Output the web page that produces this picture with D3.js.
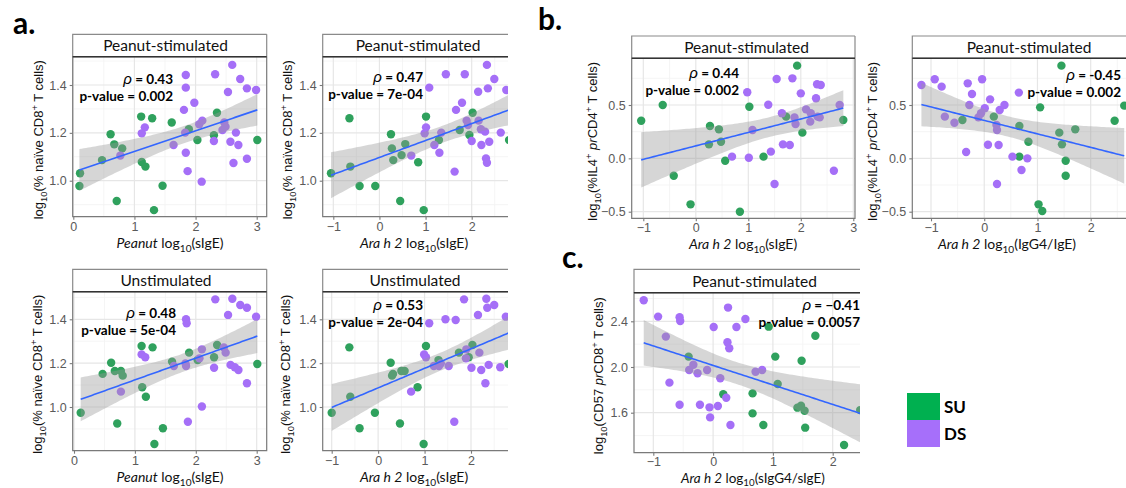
<!DOCTYPE html>
<html>
<head>
<meta charset="utf-8">
<script src="https://cdn.jsdelivr.net/npm/d3@7"></script>
<style>
  body { margin: 0; background: #fff; }
  svg { display: block; }
</style>
</head>
<body>
<svg id="fig" width="1126" height="488"></svg>
<script>
// ---- data: [x, y] per subject ----
// a. naive CD8 vs Peanut sIgE, peanut-stimulated
var naivePnStimSU = [[0.11,1.031],[0.10,0.978],[0.47,1.086],[0.61,1.194],[0.67,1.152],[0.80,1.135],[0.71,0.915],[1.11,1.268],[1.29,1.261],[1.12,1.078],[1.18,1.059],[1.46,0.979],[1.32,0.877],[1.61,1.243],[1.89,1.215],[2.03,1.170],[2.35,1.284],[2.30,1.190],[3.01,1.170]];
var naivePnStimDS = [[1.84,1.442],[1.84,1.389],[1.81,1.296],[1.98,1.326],[2.32,1.445],[2.60,1.484],[2.73,1.425],[2.84,1.386],[2.99,1.379],[2.53,1.371],[1.17,1.223],[1.12,1.198],[0.77,1.105],[1.64,1.149],[1.83,1.201],[1.84,1.117],[1.87,1.040],[2.10,0.996],[2.06,1.236],[2.11,1.251],[2.30,1.166],[2.44,1.212],[2.49,1.226],[2.47,1.243],[2.57,1.163],[2.66,1.201],[2.70,1.149],[2.62,1.074],[2.84,1.092]];
// a. naive CD8 vs Ara h 2 sIgE, peanut-stimulated
var naiveAraStimSU = [[-1.05,1.031],[-0.65,1.261],[-0.63,1.059],[-0.43,0.978],[-0.09,0.978],[0.25,1.194],[0.27,1.135],[0.30,1.086],[0.48,1.107],[0.56,1.153],[0.45,0.915],[0.84,1.077],[0.96,0.877],[1.01,1.268],[1.29,1.170],[1.74,1.212],[1.95,1.191],[2.02,1.284],[2.81,1.170]];
var naiveAraStimDS = [[1.08,1.389],[1.44,1.445],[1.85,1.445],[2.33,1.484],[2.14,1.372],[2.35,1.386],[2.49,1.425],[2.75,1.379],[1.79,1.326],[1.66,1.296],[1.01,1.223],[0.98,1.198],[0.69,1.105],[1.19,1.149],[1.30,1.117],[1.34,1.201],[1.63,1.038],[1.89,1.251],[1.92,1.233],[2.00,1.166],[2.15,1.251],[2.20,1.215],[2.29,1.205],[2.21,1.149],[2.38,1.163],[2.31,1.093],[2.33,1.075],[2.63,1.201]];
// a. naive CD8 vs Peanut sIgE, unstimulated
var naivePnUnstSU = [[0.11,0.974],[0.47,1.151],[0.61,1.202],[0.67,1.164],[0.77,1.164],[0.80,1.143],[0.71,0.925],[1.11,1.278],[1.29,1.272],[1.12,1.090],[1.18,1.047],[1.46,0.903],[1.32,0.831],[1.61,1.207],[1.89,1.248],[2.03,1.214],[2.35,1.283],[2.30,1.227],[3.01,1.196]];
var naivePnUnstDS = [[1.84,1.400],[1.85,1.382],[2.32,1.491],[2.60,1.494],[2.73,1.465],[2.84,1.453],[2.99,1.412],[2.53,1.420],[1.11,1.240],[1.17,1.227],[0.77,1.070],[1.64,1.187],[1.83,1.199],[1.84,1.187],[1.87,0.933],[2.10,1.002],[2.06,1.222],[2.10,1.263],[2.30,1.179],[2.46,1.272],[2.49,1.248],[2.57,1.192],[2.64,1.181],[2.70,1.169],[2.84,1.108]];
// a. naive CD8 vs Ara h 2 sIgE, unstimulated
var naiveAraUnstSU = [[-1.00,0.974],[-0.62,1.272],[-0.60,1.047],[-0.40,0.903],[-0.07,0.974],[0.27,1.202],[0.30,1.143],[0.32,1.151],[0.50,1.164],[0.57,1.164],[0.47,0.925],[0.85,1.090],[0.98,0.831],[1.03,1.278],[1.30,1.214],[1.74,1.248],[1.95,1.227],[2.03,1.283],[2.81,1.196]];
var naiveAraUnstDS = [[1.10,1.382],[1.45,1.400],[1.67,1.397],[1.85,1.491],[2.33,1.494],[2.35,1.453],[2.50,1.465],[2.75,1.412],[2.15,1.420],[0.99,1.240],[1.03,1.227],[0.71,1.070],[1.20,1.187],[1.35,1.199],[1.31,1.187],[1.52,1.187],[1.64,0.933],[2.01,1.179],[1.90,1.263],[1.89,1.222],[2.18,1.248],[2.22,1.169],[2.38,1.192],[2.31,1.108],[2.63,1.181]];
// b. IL4+ prCD4 vs Ara h 2 sIgE
var il4AraSU = [[-1.04,0.353],[-0.63,0.500],[-0.42,-0.163],[-0.10,-0.431],[0.27,0.303],[0.25,0.131],[0.44,0.272],[0.48,0.156],[0.56,-0.022],[0.84,-0.500],[1.02,0.484],[1.29,0.016],[1.72,0.391],[1.93,0.869],[2.03,0.241],[2.81,0.359]];
var il4AraDS = [[0.98,0.619],[0.69,0.016],[1.01,0.006],[1.08,0.266],[1.38,0.503],[1.43,0.063],[1.54,0.744],[1.50,-0.241],[1.64,0.422],[1.66,0.131],[1.79,0.125],[1.84,0.750],[1.88,0.384],[1.90,0.322],[2.00,0.609],[2.10,0.459],[2.18,0.344],[2.19,0.422],[2.29,0.563],[2.31,0.694],[2.38,0.688],[2.32,0.391],[2.36,0.384],[2.74,0.500],[2.63,-0.116]];
// b. IL4+ prCD4 vs Ara h 2 IgG4/IgE
var il4RatioSU = [[-0.41,0.359],[0.18,0.391],[0.66,0.303],[0.66,0.016],[0.83,0.156],[1.05,0.478],[1.02,-0.431],[1.09,-0.494],[1.41,0.241],[1.45,0.869],[1.46,0.131],[1.53,-0.022],[1.53,-0.163],[1.71,0.272],[2.45,0.353],[2.63,0.494]];
var il4RatioDS = [[-1.18,0.688],[-0.93,0.741],[-0.80,0.672],[-0.74,0.391],[-0.56,0.334],[-0.31,0.703],[-0.23,0.603],[-0.28,0.500],[-0.04,0.741],[-0.34,0.059],[-0.11,0.384],[-0.06,0.422],[0.01,0.469],[0.11,0.553],[0.07,0.128],[0.23,0.313],[0.24,0.266],[0.27,0.125],[0.29,0.453],[0.38,0.500],[0.24,-0.241],[0.65,0.616],[0.53,0.016],[0.81,0.000],[0.70,-0.109]];
// c. CD57 prCD8 vs Ara h 2 sIgG4/sIgE
var cd57RatioSU = [[-0.41,2.091],[0.93,2.353],[1.04,2.091],[1.48,2.055],[1.71,2.274],[1.08,1.851],[0.66,1.769],[0.17,1.761],[0.66,1.594],[0.84,1.492],[1.41,1.644],[1.47,1.661],[1.53,1.617],[1.54,1.469],[2.19,1.317],[2.46,1.623]];
var cd57RatioDS = [[-1.16,2.584],[-0.92,2.441],[-0.56,2.435],[-0.55,2.403],[-0.79,2.266],[0.25,2.520],[0.01,2.350],[0.39,2.350],[0.54,2.420],[0.24,2.216],[0.27,2.164],[-0.40,1.974],[-0.33,2.020],[-0.26,1.945],[-0.10,1.974],[0.12,1.901],[-0.73,1.863],[-0.56,1.670],[-0.22,1.670],[-0.06,1.647],[0.08,1.658],[-0.05,1.559],[0.22,1.731],[0.29,1.492],[0.71,1.959],[0.82,1.974]];

// tick values
var xTicksPeanut = [0, 1, 2, 3];
var xTicksAra = [-1, 0, 1, 2];
var xTicksAraB = [-1, 0, 1, 2, 3];
var xTicksRatio = [-1, 0, 1, 2];
var yTicksNaive = [1.0, 1.2, 1.4];
var yTicksIL4 = [-0.5, 0.0, 0.5];
var yTicksCD57 = [1.6, 2.0, 2.4];

// correlation labels
var rhoLabels = ["0.43", "0.47", "0.48", "0.53", "0.44", "-0.45", "\u22120.41"];
var pLabels = ["0.002", "7e-04", "5e-04", "2e-04", "0.002", "0.002", "0.0057"];

var colSU = "#2fa15d", colDS = "#a56ff7";
var FONT_AX = "'Liberation Sans', Arial, sans-serif";
var FONT_LB = "Lato, 'Open Sans', sans-serif";

// y titles / x titles as rich text parts
var yTitleNaive = [{t:"log"},{t:"10",s:"sub"},{t:"(% naïve CD8"},{t:"+",s:"sup"},{t:" T cells)"}];
var yTitleIL4 = [{t:"log"},{t:"10",s:"sub"},{t:"(%IL4"},{t:"+",s:"sup"},{t:" "},{t:"pr",i:1},{t:"CD4"},{t:"+",s:"sup"},{t:" T cells)"}];
var yTitleCD57 = [{t:"log"},{t:"10",s:"sub"},{t:"(CD57 "},{t:"pr",i:1},{t:"CD8"},{t:"+",s:"sup"},{t:" T cells)"}];
var xTitlePeanut = [{t:"Peanut",i:1},{t:" log"},{t:"10",s:"sub"},{t:"(sIgE)"}];
var xTitleAra = [{t:"Ara h 2",i:1},{t:" log"},{t:"10",s:"sub"},{t:"(sIgE)"}];
var xTitleIgG4 = [{t:"Ara h 2",i:1},{t:" log"},{t:"10",s:"sub"},{t:"(IgG4/IgE)"}];
var xTitleSIgG4 = [{t:"Ara h 2",i:1},{t:" log"},{t:"10",s:"sub"},{t:"(sIgG4/sIgE)"}];

// layout of each panel (pixel boxes)
var panels = [
  { id:"a1", su:naivePnStimSU, ds:naivePnStimDS, strip:"Peanut-stimulated", stripTop:34.3, stripX:165.5,
    box:[72.7,56.7,266.7,216.7], rightEdge:true, xd:[0,3], xr:[73.3,256.7], yd:[1.0,1.4], yr:[180.7,85],
    xt:xTicksPeanut, yt:yTicksNaive, yTitle:yTitleNaive, yTitleX:43, xTitle:xTitlePeanut, xTitleX:170, xTitleDy:31,
    ann:{x:173, y:84} },
  { id:"a2", su:naiveAraStimSU, ds:naiveAraStimDS, strip:"Peanut-stimulated", stripTop:34.3, stripX:418,
    box:[322.7,56.7,508,216.7], rightEdge:false, xd:[-1,2], xr:[333.3,471.7], yd:[1.0,1.4], yr:[180.7,85],
    xt:xTicksAra, yt:yTicksNaive, yTitle:yTitleNaive, yTitleX:292, xTitle:xTitleAra, xTitleX:414, xTitleDy:31,
    ann:{x:423, y:82} },
  { id:"a3", su:naivePnUnstSU, ds:naivePnUnstDS, strip:"Unstimulated", stripTop:269.3, stripX:166,
    box:[72.7,291.7,266.7,450.7], rightEdge:true, xd:[0,3], xr:[74,256.7], yd:[1.0,1.4], yr:[407,319.3],
    xt:xTicksPeanut, yt:yTicksNaive, yTitle:yTitleNaive, yTitleX:42, xTitle:xTitlePeanut, xTitleX:170, xTitleDy:31,
    ann:{x:176, y:318} },
  { id:"a4", su:naiveAraUnstSU, ds:naiveAraUnstDS, strip:"Unstimulated", stripTop:269.3, stripX:415,
    box:[322.7,291.7,508,450.7], rightEdge:false, xd:[-1,2], xr:[331.7,471], yd:[1.0,1.4], yr:[407,319.3],
    xt:xTicksAra, yt:yTicksNaive, yTitle:yTitleNaive, yTitleX:290, xTitle:xTitleAra, xTitleX:414, xTitleDy:31,
    ann:{x:423, y:310} },
  { id:"b1", su:il4AraSU, ds:il4AraDS, strip:"Peanut-stimulated", stripTop:36, stripX:746.5,
    box:[631.7,58.3,855,218.3], rightEdge:true, xd:[-1,3], xr:[643.3,853.3], yd:[-0.5,0.5], yr:[211.7,105],
    xt:xTicksAraB, yt:yTicksIL4, yTitle:yTitleIL4, yTitleX:597, xTitle:xTitleAra, xTitleX:743, xTitleDy:31,
    ann:{x:739, y:78} },
  { id:"b2", su:il4RatioSU, ds:il4RatioDS, strip:"Peanut-stimulated", stripTop:36, stripX:1029,
    box:[912.3,58.3,1128,218.3], rightEdge:false, xd:[-1,2], xr:[931,1090.7], yd:[-0.5,0.5], yr:[211.7,105],
    xt:xTicksRatio, yt:yTicksIL4, yTitle:yTitleIL4, yTitleX:877, xTitle:xTitleIgG4, xTitleX:1007, xTitleDy:31,
    ann:{x:1121, y:80} },
  { id:"c", su:cd57RatioSU, ds:cd57RatioDS, strip:"Peanut-stimulated", stripTop:269.3, stripX:754.5,
    box:[634,292.7,860,452.7], rightEdge:false, xd:[-1,2], xr:[653.3,832.7], yd:[1.6,2.4], yr:[412.7,321.3],
    xt:xTicksRatio, yt:yTicksCD57, yTitle:yTitleCD57, yTitleX:603, xTitle:xTitleSIgG4, xTitleX:753, xTitleDy:30,
    xTitleSize:13.5, tickPad:1, ann:{x:860, y:310} }
];

var svg = d3.select("#fig");
var defs = svg.append("defs");

// text with sub / superscripts and italics
function rich(sel, parts, size) {
  var shift = 0;
  parts.forEach(function (p) {
    var target = p.s === "sub" ? size * 0.28 : p.s === "sup" ? -size * 0.4 : 0;
    var ts = sel.append("tspan").text(p.t).attr("dy", target - shift);
    shift = target;
    if (p.s) ts.attr("font-size", size * 0.72);
    if (p.i) ts.attr("font-style", "italic");
  });
}

// linear fit with 95% confidence band (like geom_smooth(method = "lm"))
function fitLine(pts) {
  var N = pts.length;
  var mx = d3.mean(pts, d => d[0]), my = d3.mean(pts, d => d[1]);
  var sxx = d3.sum(pts, d => (d[0] - mx) * (d[0] - mx));
  var sxy = d3.sum(pts, d => (d[0] - mx) * (d[1] - my));
  var b = sxy / sxx, a = my - b * mx;
  var sse = d3.sum(pts, d => Math.pow(d[1] - a - b * d[0], 2));
  var s = Math.sqrt(sse / (N - 2));
  var df = N - 2, z = 1.959964;
  var t = z + (z * z * z + z) / (4 * df) + (5 * Math.pow(z, 5) + 16 * z * z * z + 3 * z) / (96 * df * df);
  var ext = d3.extent(pts, d => d[0]);
  return d3.range(81).map(function (i) {
    var xv = ext[0] + (ext[1] - ext[0]) * i / 80, yv = a + b * xv;
    var se = s * Math.sqrt(1 / N + (xv - mx) * (xv - mx) / sxx);
    return { x: xv, y: yv, lo: yv - t * se, hi: yv + t * se };
  });
}

function minorTicks(ticks, lo, hi) {
  var step = ticks[1] - ticks[0], out = [];
  for (var v = ticks[0] - step / 2; v <= hi; v += step) if (v >= lo) out.push(v);
  return out;
}

panels.forEach(function (p, pi) {
  var x0 = p.box[0], y0 = p.box[1], x1 = p.box[2], y1 = p.box[3];
  var x = d3.scaleLinear().domain(p.xd).range(p.xr);
  var y = d3.scaleLinear().domain(p.yd).range(p.yr);
  var g = svg.append("g");

  defs.append("clipPath").attr("id", "clip-" + p.id)
    .append("rect").attr("x", x0).attr("y", y0).attr("width", x1 - x0).attr("height", y1 - y0);
  var plot = g.append("g").attr("clip-path", "url(#clip-" + p.id + ")");

  // grid
  var xlo = x.invert(x0), xhi = x.invert(x1), ylo = y.invert(y1), yhi = y.invert(y0);
  plot.selectAll(".xminor").data(minorTicks(p.xt, xlo, xhi)).enter().append("line")
    .attr("x1", d => x(d)).attr("x2", d => x(d)).attr("y1", y0).attr("y2", y1)
    .attr("stroke", "#f2f2f2").attr("stroke-width", 0.8);
  plot.selectAll(".yminor").data(minorTicks(p.yt, ylo, yhi)).enter().append("line")
    .attr("x1", x0).attr("x2", x1).attr("y1", d => y(d)).attr("y2", d => y(d))
    .attr("stroke", "#f2f2f2").attr("stroke-width", 0.8);
  plot.selectAll(".xmajor").data(p.xt).enter().append("line")
    .attr("x1", d => x(d)).attr("x2", d => x(d)).attr("y1", y0).attr("y2", y1)
    .attr("stroke", "#e6e6e6").attr("stroke-width", 1.2);
  plot.selectAll(".ymajor").data(p.yt).enter().append("line")
    .attr("x1", x0).attr("x2", x1).attr("y1", d => y(d)).attr("y2", d => y(d))
    .attr("stroke", "#e6e6e6").attr("stroke-width", 1.2);

  // points
  var pts = p.su.map(d => ({ v: d, c: colSU })).concat(p.ds.map(d => ({ v: d, c: colDS })));
  plot.selectAll(".pt").data(pts).enter().append("circle")
    .attr("cx", d => x(d.v[0])).attr("cy", d => y(d.v[1])).attr("r", 4.2)
    .attr("fill", d => d.c);

  // smooth
  var fit = fitLine(p.su.concat(p.ds));
  plot.append("path").datum(fit)
    .attr("d", d3.area().x(d => x(d.x)).y0(d => y(d.lo)).y1(d => y(d.hi)))
    .attr("fill", "#999999").attr("fill-opacity", 0.4);
  plot.append("path").datum(fit)
    .attr("d", d3.line().x(d => x(d.x)).y(d => y(d.y)))
    .attr("fill", "none").attr("stroke", "#3366ff").attr("stroke-width", 1.6);

  // border
  var border = "M" + x1 + "," + y0 + "H" + x0 + "V" + y1 + "H" + x1 + (p.rightEdge ? "V" + y0 : "");
  g.append("path").attr("d", border).attr("fill", "none").attr("stroke", "#7a7a7a").attr("stroke-width", 1.2);

  // strip
  var strip = "M" + x1 + "," + p.stripTop + "H" + x0 + "V" + y0 + (p.rightEdge ? "M" + x1 + "," + p.stripTop + "V" + y0 : "");
  g.append("path").attr("d", strip).attr("fill", "none").attr("stroke", "#8a8a8a").attr("stroke-width", 1.2);
  g.append("line").attr("x1", x0).attr("x2", x1).attr("y1", y0).attr("y2", y0)
    .attr("stroke", "#333").attr("stroke-width", 1.6);
  g.append("text").attr("x", p.stripX).attr("y", (p.stripTop + y0) / 2 + 5.5)
    .attr("text-anchor", "middle").attr("font-family", FONT_LB).attr("font-size", 15.5)
    .attr("fill", "#111").text(p.strip);

  // axes
  var ax = g.append("g").attr("transform", "translate(0," + y1 + ")")
    .call(d3.axisBottom(x).tickValues(p.xt).tickFormat(d3.format("d")).tickSize(3).tickPadding(p.tickPad != null ? p.tickPad : 2));
  var ay = g.append("g").attr("transform", "translate(" + x0 + ",0)")
    .call(d3.axisLeft(y).tickValues(p.yt).tickFormat(d3.format(".1f")).tickSize(3).tickPadding(3));
  [ax, ay].forEach(function (a) {
    a.select(".domain").remove();
    a.selectAll("line").attr("stroke", "#7a7a7a").attr("stroke-width", 1.1);
    a.selectAll("text").attr("font-family", FONT_AX).attr("font-size", 12.5).attr("fill", "#5a5a5a");
  });

  // axis titles
  var yt = g.append("text")
    .attr("transform", "translate(" + p.yTitleX + "," + ((y0 + y1) / 2 + 3) + ") rotate(-90)")
    .attr("text-anchor", "middle").attr("dy", "0.35em")
    .attr("font-family", FONT_AX).attr("font-size", 13).attr("fill", "#111");
  rich(yt, p.yTitle, 13);
  var xs = p.xTitleSize || 14;
  var xt = g.append("text").attr("x", p.xTitleX).attr("y", y1 + p.xTitleDy)
    .attr("text-anchor", "middle").attr("font-family", FONT_LB).attr("font-size", xs).attr("fill", "#111");
  rich(xt, p.xTitle, xs);

  // correlation annotation
  var r = g.append("text").attr("x", p.ann.x).attr("y", p.ann.y).attr("text-anchor", "end")
    .attr("font-family", FONT_LB).attr("font-size", 13.5).attr("fill", "#000");
  r.append("tspan").attr("font-style", "italic").attr("font-family", FONT_AX).attr("font-size", 15).text("\u03c1");
  r.append("tspan").attr("font-weight", "bold").text(" = " + rhoLabels[pi]);
  g.append("text").attr("x", p.ann.x).attr("y", p.ann.y + 17).attr("text-anchor", "end")
    .attr("font-family", FONT_LB).attr("font-size", 13.5).attr("font-weight", "bold").attr("fill", "#000")
    .text("p-value = " + pLabels[pi]);
});

// panel letters
[["a.", 13, 34], ["b.", 538, 30], ["c.", 562, 268]].forEach(function (l) {
  svg.append("text").attr("x", l[1]).attr("y", l[2]).attr("font-family", FONT_LB)
    .attr("font-weight", "bold").attr("font-size", 30).attr("fill", "#000").text(l[0]);
});

// legend
var legendKeys = ["SU", "DS"];
var legendCol = d3.scaleOrdinal().domain(legendKeys).range(["#00b050", "#a66ffa"]);
var leg = svg.append("g").attr("transform", "translate(907,393)");
leg.selectAll("rect").data(legendKeys).enter().append("rect")
  .attr("x", 0).attr("y", (d, i) => i * 27).attr("width", 33).attr("height", 27)
  .attr("fill", d => legendCol(d));
leg.selectAll("text").data(legendKeys).enter().append("text")
  .attr("x", 37).attr("y", (d, i) => 19.5 + i * 27)
  .attr("font-family", FONT_LB).attr("font-weight", "bold").attr("font-size", 17).attr("fill", "#000")
  .text(d => d);
</script>
</body>
</html>
